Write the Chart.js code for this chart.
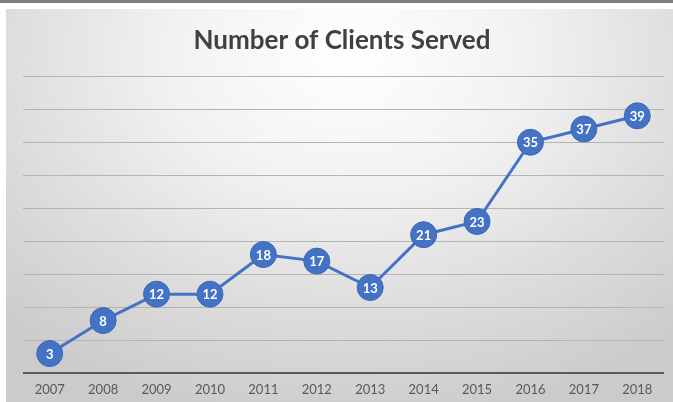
<!DOCTYPE html>
<html>
<head>
<meta charset="utf-8">
<script src="https://cdn.jsdelivr.net/npm/chart.js@4/dist/chart.umd.min.js"></script>
<style>
  html, body { margin: 0; padding: 0; background: #fff; }
  body { width: 673px; height: 402px; position: relative; overflow: hidden; }
  #topbar { position: absolute; left: 0; top: 0; width: 673px; height: 3px; background: #7f7f7f; }
  #box {
    position: absolute; left: 6px; top: 9px; width: 672px; height: 393px;
    background: radial-gradient(ellipse 75% 95% at 51% 12%, #ffffff 0%, #f2f2f2 35%, #dcdcdc 70%, #cbcbcb 100%);
  }
</style>
</head>
<body>
<div id="topbar"></div>
<div id="box"><canvas id="clientes" width="672" height="393"></canvas></div>
<script>
// clientes atendidos por año
var years = ['2007', '2008', '2009', '2010', '2011', '2012', '2013', '2014', '2015', '2016', '2017', '2018'];
var clients = [3, 8, 12, 12, 18, 17, 13, 21, 23, 35, 37, 39];

// numeros blancos dentro de cada punto
var pointLabels = {
  id: 'pointLabels',
  afterDatasetsDraw: function(chart) {
    var ctx = chart.ctx;
    var meta = chart.getDatasetMeta(0);
    ctx.save();
    ctx.fillStyle = '#ffffff';
    ctx.font = 'bold 13px Lato';
    ctx.textAlign = 'center';
    ctx.textBaseline = 'middle';
    meta.data.forEach(function(pt, i) {
      ctx.fillText(clients[i], pt.x, pt.y + 1);
    });
    ctx.restore();
  }
};

Chart.defaults.font.family = 'Lato';

var ClientsChart = new Chart(document.getElementById('clientes'), {
  type: 'line',
  data: {
    labels: years,
    datasets: [{
      data: clients,
      borderColor: '#4472C4',
      borderWidth: 3,
      backgroundColor: '#4472C4',
      pointRadius: 13,
      pointHoverRadius: 13,
      pointBorderWidth: 1,
      pointBorderColor: '#3d67b3',
      tension: 0
    }]
  },
  options: {
    responsive: false,
    animation: false,
    layout: { padding: { left: 2, right: 2, top: 0, bottom: -5 } },
    plugins: {
      legend: { display: false },
      tooltip: { enabled: false },
      title: {
        display: true,
        text: 'Number of Clients Served',
        color: '#404040',
        font: { size: 26, weight: 'bold', family: 'Lato' },
        padding: { top: 16, bottom: 20 }
      }
    },
    scales: {
      x: {
        offset: true,
        grid: { display: false, drawTicks: false },
        border: { display: false },
        ticks: { color: '#595959', font: { size: 13 }, padding: 9, maxRotation: 0, autoSkip: false }
      },
      y: {
        min: 0,
        max: 45,
        afterFit: function(scale) { scale.width = 15; },
        ticks: { display: false, stepSize: 5 },
        border: { display: false },
        grid: {
          drawTicks: false,
          color: function(c) { return c.tick && c.tick.value === 0 ? '#595959' : '#b4b4b4'; },
          lineWidth: function(c) { return c.tick && c.tick.value === 0 ? 2 : 1; }
        }
      }
    }
  },
  plugins: [pointLabels]
});
</script>
</body>
</html>
